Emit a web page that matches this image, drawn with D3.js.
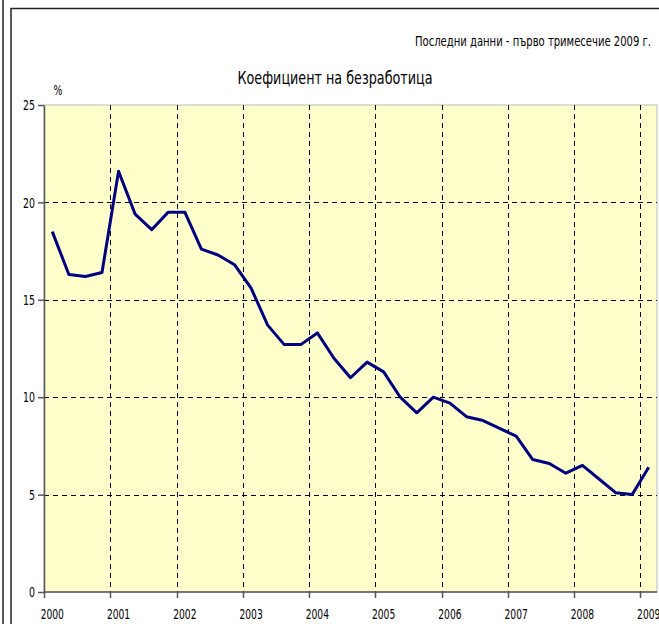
<!DOCTYPE html>
<html lang="bg">
<head>
<meta charset="UTF-8">
<title>Коефициент на безработица</title>
<script src="https://cdn.jsdelivr.net/npm/d3@7"></script>
<style>
    body { margin: 0; background: #fff; }
    svg text { font-family: "DejaVu Sans Condensed", "DejaVu Sans", sans-serif; fill: #000; }
    .grid line { stroke: #000; stroke-dasharray: 5 4; stroke-width: 1; }
    .axis path, .axis line { stroke: #555; stroke-width: 1.5; }
</style>
</head>
<body>
<div id="chart"></div>
<script>
// quarterly unemployment rate, 2000 Q1 .. 2009 Q1
var years = ["2000","2001","2002","2003","2004","2005","2006","2007","2008","2009"];
var quarters = ["I","II","III","IV"];
var rate = [
    18.5, 16.3, 16.2, 16.4,
    21.6, 19.4, 18.6, 19.5,
    19.5, 17.6, 17.3, 16.8,
    15.6, 13.7, 12.7, 12.7,
    13.3, 12.0, 11.0, 11.8,
    11.3, 10.0, 9.2, 10.0,
    9.7, 9.0, 8.8, 8.4,
    8.0, 6.8, 6.6, 6.1,
    6.5, 5.8, 5.1, 5.0,
    6.4
];
var yTicks = [0, 5, 10, 15, 20, 25];

var periods = rate.map(function(v, i) {
    return years[Math.floor(i / 4)] + "-" + quarters[i % 4];
});

var width = 659, height = 624;
var margin = { top: 105, right: 2, bottom: 32, left: 44 };

// narrow the glyphs, the source uses a compressed font
function squeeze(sel, ratio) {
    sel.each(function() {
        var w = this.getComputedTextLength();
        d3.select(this)
            .attr("textLength", w * ratio)
            .attr("lengthAdjust", "spacingAndGlyphs");
    });
}

var svg = d3.select("#chart").append("svg")
    .attr("width", width)
    .attr("height", height);

// outer frame lines
svg.append("line").attr("x1", 3).attr("x2", 3).attr("y1", 0).attr("y2", height)
    .attr("stroke", "#222").attr("stroke-width", 1.5);
svg.append("path").attr("d", "M11," + height + "V8.5H" + width)
    .attr("fill", "none").attr("stroke", "#222").attr("stroke-width", 1.5);

var x = d3.scaleBand()
    .domain(periods)
    .range([margin.left, width - margin.right]);

var y = d3.scaleLinear()
    .domain([0, 25])
    .range([height - margin.bottom, margin.top]);

// plot area
svg.append("rect")
    .attr("x", x.range()[0])
    .attr("y", y(25))
    .attr("width", x.range()[1] - x.range()[0])
    .attr("height", y(0) - y(25))
    .attr("fill", "#ffffcc")
    .attr("stroke", "#bbb")
    .attr("stroke-width", 1);

var yearStarts = periods.filter(function(p, i) { return i % 4 === 0; });

// vertical gridlines at year boundaries
svg.append("g").attr("class", "grid")
    .selectAll("line")
    .data(yearStarts.slice(1))
    .join("line")
    .attr("x1", function(d) { return Math.round(x(d)) + 0.5; })
    .attr("x2", function(d) { return Math.round(x(d)) + 0.5; })
    .attr("y1", y(25))
    .attr("y2", y(0));

// horizontal gridlines
svg.append("g").attr("class", "grid")
    .selectAll("line")
    .data(yTicks.filter(function(t) { return t > 0 && t < 25; }))
    .join("line")
    .attr("x1", x.range()[0])
    .attr("x2", x.range()[1])
    .attr("y1", function(d) { return Math.round(y(d)) + 0.5; })
    .attr("y2", function(d) { return Math.round(y(d)) + 0.5; });

// y axis
var yAxis = svg.append("g").attr("class", "axis")
    .attr("transform", "translate(" + margin.left + ",0)")
    .call(d3.axisLeft(y).tickValues(yTicks).tickSize(6).tickSizeOuter(0).tickPadding(3));
yAxis.selectAll("text").style("font-size", "14.5px").call(squeeze, 0.72);

// x axis: ticks at year boundaries, labels on first quarter
var xAxisG = svg.append("g").attr("class", "axis")
    .attr("transform", "translate(0," + y(0) + ")");
xAxisG.append("line")
    .attr("x1", x.range()[0]).attr("x2", x.range()[1]);
xAxisG.selectAll("line.tick")
    .data(yearStarts)
    .join("line")
    .attr("class", "tick")
    .attr("x1", function(d) { return Math.round(x(d)) + 0.5; })
    .attr("x2", function(d) { return Math.round(x(d)) + 0.5; })
    .attr("y1", 0).attr("y2", 6);
xAxisG.selectAll("text")
    .data(yearStarts)
    .join("text")
    .attr("x", function(d) { return x(d) + x.bandwidth() / 2; })
    .attr("y", 27)
    .attr("text-anchor", "middle")
    .style("font-size", "14.5px")
    .text(function(d) { return d.slice(0, 4); })
    .call(squeeze, 0.7);

// series line
var line = d3.line()
    .x(function(d, i) { return x(periods[i]) + x.bandwidth() / 2; })
    .y(function(d) { return y(d); });

svg.append("path")
    .datum(rate)
    .attr("d", line)
    .attr("fill", "none")
    .attr("stroke", "#000080")
    .attr("stroke-width", 3)
    .attr("stroke-linejoin", "round");

// texts
svg.append("text")
    .attr("x", 651).attr("y", 46)
    .attr("text-anchor", "end")
    .style("font-size", "14px")
    .attr("textLength", 236)
    .attr("lengthAdjust", "spacingAndGlyphs")
    .text("Последни данни - първо тримесечие 2009 г.");

svg.append("text")
    .attr("x", 335).attr("y", 84)
    .attr("text-anchor", "middle")
    .style("font-size", "18.5px")
    .attr("textLength", 195)
    .attr("lengthAdjust", "spacingAndGlyphs")
    .text("Коефициент на безработица");

svg.append("text")
    .attr("x", 58).attr("y", 95)
    .attr("text-anchor", "middle")
    .style("font-size", "14.5px")
    .text("%")
    .call(squeeze, 0.72);
</script>
</body>
</html>
